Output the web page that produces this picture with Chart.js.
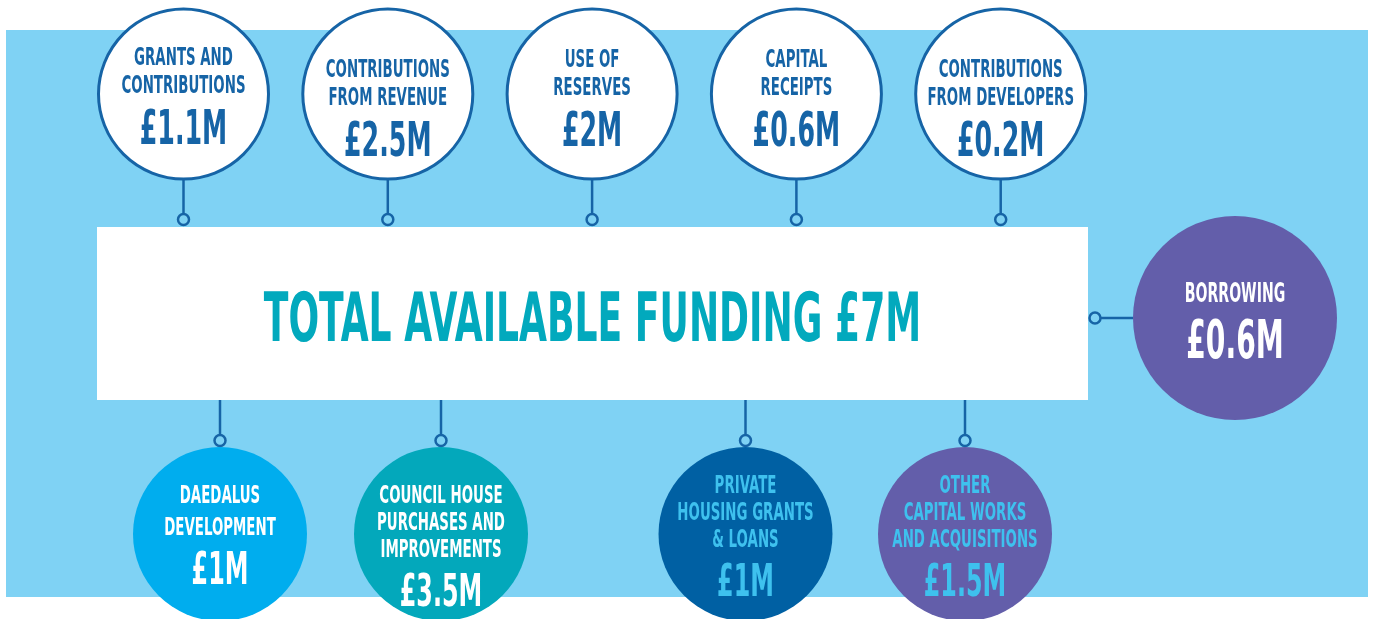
<!DOCTYPE html>
<html>
<head>
<meta charset="utf-8">
<script src="https://cdn.jsdelivr.net/npm/chart.js@4"></script>
<style>
html,body{margin:0;padding:0;background:#ffffff;}
#wrap{width:1373px;height:619px;position:relative;}
</style>
</head>
<body>
<div id="wrap"><canvas id="c" width="1373" height="619"></canvas></div>
<script>
// ---------- DATA ----------
const sourceLabels = [
  ["GRANTS AND", "CONTRIBUTIONS"],
  ["CONTRIBUTIONS", "FROM REVENUE"],
  ["USE OF", "RESERVES"],
  ["CAPITAL", "RECEIPTS"],
  ["CONTRIBUTIONS", "FROM DEVELOPERS"]
];
const sourceValues = [1.1, 2.5, 2, 0.6, 0.2];
const borrowingLabel = ["BORROWING"];
const borrowingValue = 0.6;
const useLabels = [
  ["DAEDALUS", "DEVELOPMENT"],
  ["COUNCIL HOUSE", "PURCHASES AND", "IMPROVEMENTS"],
  ["PRIVATE", "HOUSING GRANTS", "& LOANS"],
  ["OTHER", "CAPITAL WORKS", "AND ACQUISITIONS"]
];
const useValues = [1, 3.5, 1, 1.5];
const totalLabel = "TOTAL AVAILABLE FUNDING";
const totalValue = 7;

// ---------- LAYOUT / STYLE ----------
const W = 1373, H = 619;
const L = {
  bg: {x0: 6, x1: 1368, y0: 30, y1: 597},
  box: {x0: 97, x1: 1088, y0: 227, y1: 400},
  topY: 94, topR: 85, topBorder: 3, topX0: 183.5, topStep: 204.3,
  topTextY: [56, 68, 58, 58, 68],
  bottomY: 534, bottomR: 87, bottomX: [220, 441, 745.5, 965],
  bottomTextY: [494, 494, 484, 484], bottomStep: [32, 27, 27, 27],
  borrowX: 1235, borrowY: 318, borrowR: 102, borrowTextY: 292,
  knobR: 5.5
};
// Chart.js pads the chart area by the largest bubble overflow; set the scale
// range so that one unit equals one pixel across the whole canvas.
const PAD = Math.max(L.topR + L.topBorder, L.borrowR, L.bottomR);
const C = {
  bg: '#7fd2f4', dark: '#1664a6', teal: '#02a9bd', white: '#ffffff',
  useFill: ['#00adee', '#03a8bb', '#0060a3', '#635eaa'],
  useText: ['#ffffff', '#ffffff', '#3ec1ee', '#3ec1ee'],
  purple: '#635eaa'
};
const FONT = "'Liberation Sans Narrow','DejaVu Sans Condensed','Liberation Sans',sans-serif";

const fmt = v => '£' + v + 'M';
const topX = i => L.topX0 + L.topStep * i;

// ---------- text helper ----------
let CAP = 0.72, K = 0.72;
function calibrate(ctx){
  ctx.save();
  ctx.font = 'bold 100px ' + FONT;
  const m = ctx.measureText('H');
  if (m.actualBoundingBoxAscent) CAP = m.actualBoundingBoxAscent / 100;
  const size = 18.5 / CAP;
  ctx.font = 'bold ' + size + 'px ' + FONT;
  K = 124 / ctx.measureText('CONTRIBUTIONS').width;
  ctx.restore();
}
function txt(ctx, s, cx, cy, cap, color){
  const size = cap / CAP;
  ctx.save();
  ctx.font = 'bold ' + size + 'px ' + FONT;
  ctx.fillStyle = color;
  ctx.textAlign = 'center';
  ctx.textBaseline = 'alphabetic';
  ctx.translate(cx, cy + cap / 2);
  ctx.scale(K, 1);
  ctx.fillText(s, 0, 0);
  ctx.restore();
}

const decor = {
  id: 'decor',
  beforeDatasetsDraw(chart){
    const ctx = chart.ctx, xs = chart.scales.x, ys = chart.scales.y;
    const X = v => xs.getPixelForValue(v), Y = v => ys.getPixelForValue(v);
    calibrate(ctx);
    ctx.save();
    ctx.fillStyle = C.bg;
    ctx.fillRect(X(L.bg.x0), Y(L.bg.y0), X(L.bg.x1) - X(L.bg.x0), Y(L.bg.y1) - Y(L.bg.y0));
    ctx.fillStyle = C.white;
    ctx.fillRect(X(L.box.x0), Y(L.box.y0), X(L.box.x1) - X(L.box.x0), Y(L.box.y1) - Y(L.box.y0));
    ctx.strokeStyle = C.dark; ctx.lineWidth = 2.5;
    const knob = (x, y) => {
      ctx.beginPath(); ctx.arc(X(x), Y(y), L.knobR, 0, Math.PI * 2);
      ctx.fillStyle = C.bg; ctx.fill(); ctx.stroke();
    };
    const seg = (x0, y0, x1, y1) => {
      ctx.beginPath(); ctx.moveTo(X(x0), Y(y0)); ctx.lineTo(X(x1), Y(y1)); ctx.stroke();
    };
    sourceValues.forEach((v, i) => {
      const x = topX(i);
      const ky = L.box.y0 - L.knobR - 2;
      seg(x, L.topY + L.topR, x, ky);
      knob(x, ky);
    });
    useValues.forEach((v, i) => {
      const x = L.bottomX[i];
      const ky = L.bottomY - L.bottomR - L.knobR - 1;
      seg(x, L.box.y1, x, ky);
      knob(x, ky);
    });
    const kx = L.box.x1 + L.knobR + 1.5;
    seg(kx, L.borrowY, L.borrowX - L.borrowR, L.borrowY);
    knob(kx, L.borrowY);
    ctx.restore();
  },
  afterDatasetsDraw(chart){
    const ctx = chart.ctx, xs = chart.scales.x, ys = chart.scales.y;
    const X = v => xs.getPixelForValue(v), Y = v => ys.getPixelForValue(v);
    txt(ctx, totalLabel + ' ' + fmt(totalValue), X((L.box.x0 + L.box.x1) / 2), Y(315.5), 50, C.teal);
    sourceLabels.forEach((lines, i) => {
      const x = X(topX(i));
      const y = L.topTextY[i];
      lines.forEach((s, j) => txt(ctx, s, x, Y(y + j * 28), 18.5, C.dark));
      txt(ctx, fmt(sourceValues[i]), x, Y(y + 28 * (lines.length - 1) + 42), 35, C.dark);
    });
    useLabels.forEach((lines, i) => {
      const x = X(L.bottomX[i]);
      const y = L.bottomTextY[i], st = L.bottomStep[i];
      lines.forEach((s, j) => txt(ctx, s, x, Y(y + j * st), 18.5, C.useText[i]));
      txt(ctx, fmt(useValues[i]), x, Y(y + st * (lines.length - 1) + 41), 33, C.useText[i]);
    });
    borrowingLabel.forEach((s, j) => txt(ctx, s, X(L.borrowX), Y(L.borrowTextY + j * 28), 19.5, C.white));
    txt(ctx, fmt(borrowingValue), X(L.borrowX), Y(L.borrowTextY + 46), 39, C.white);
  }
};

new Chart(document.getElementById('c'), {
  type: 'bubble',
  data: {
    datasets: [
      {
        label: 'Sources of funding',
        data: sourceValues.map((v, i) => ({x: topX(i), y: L.topY, r: L.topR, value: v})),
        backgroundColor: C.white, borderColor: C.dark, borderWidth: L.topBorder
      },
      {
        label: 'Borrowing',
        data: [{x: L.borrowX, y: L.borrowY, r: L.borrowR, value: borrowingValue}],
        backgroundColor: C.purple, borderWidth: 0
      },
      {
        label: 'Uses of funding',
        data: useValues.map((v, i) => ({x: L.bottomX[i], y: L.bottomY, r: L.bottomR, value: v})),
        backgroundColor: C.useFill, borderWidth: 0
      }
    ]
  },
  options: {
    responsive: false,
    animation: false,
    events: [],
    clip: false,
    layout: {padding: 0},
    plugins: {legend: {display: false}, tooltip: {enabled: false}, title: {display: false}},
    scales: {
      x: {type: 'linear', min: PAD, max: W - PAD, display: false},
      y: {type: 'linear', min: PAD, max: H - PAD, reverse: true, display: false}
    }
  },
  plugins: [decor]
});
</script>
</body>
</html>
